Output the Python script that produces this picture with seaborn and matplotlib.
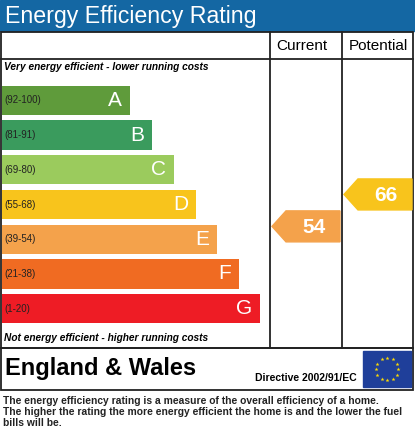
import matplotlib
matplotlib.use("Agg")
import matplotlib.pyplot as plt
import seaborn as sns
import pandas as pd
import numpy as np
from matplotlib.patches import Rectangle, Polygon

bands = ["A", "B", "C", "D", "E", "F", "G"]
ranges = ["(92-100)", "(81-91)", "(69-80)", "(55-68)", "(39-54)", "(21-38)", "(1-20)"]
bar_len = [128, 150, 172, 194, 215, 237, 258]
colors = ["#5f9b3b", "#3a9b5d", "#9bcb5d", "#f8c41c", "#f4a24b", "#f06b22", "#ee1c25"]
current = 54
potential = 66
current_pos = 3.63   # position on band scale (0=A ... 6=G)
potential_pos = 2.71

W, H = 415, 437
fig = plt.figure(figsize=(W/100, H/100), dpi=100)
ax = fig.add_axes([0, 0, 1, 1])
ax.set_xlim(0, W); ax.set_ylim(H, 0); ax.axis("off")
F = "Liberation Sans"

ax.add_patch(Rectangle((0, 0), W, 31, color="#1467a3"))
ax.text(5, 16, "Energy Efficiency Rating", color="white", fontsize=16.7, va="center", family=F)

lw = 1.3
ax.add_patch(Rectangle((1, 32), 412, 316, fill=False, ec="#222", lw=lw))
ax.plot([1, 413], [59, 59], color="#222", lw=lw)
ax.plot([270, 270], [32, 348], color="#222", lw=lw)
ax.plot([342, 342], [32, 348], color="#222", lw=lw)
ax.text(302, 46, "Current", ha="center", va="center", fontsize=11, family=F)
ax.text(378, 46, "Potential", ha="center", va="center", fontsize=11, family=F)
ax.text(4, 67, "Very energy efficient - lower running costs", fontsize=7.3, style="italic", weight="bold", va="center", family=F)
ax.text(4, 338, "Not energy efficient - higher running costs", fontsize=7.3, style="italic", weight="bold", va="center", family=F)

top, bot = 83, 326
bax = fig.add_axes([0, 1 - bot/H, 1, (bot-top)/H])
df = pd.DataFrame({"band": bands, "len": bar_len})
sns.barplot(data=df, x="len", y="band", hue="band", palette=colors, orient="h", width=0.84,
            saturation=1, ax=bax, legend=False)
bax.set_xlim(-2, W - 2)
bax.axis("off")
for i, (b, r, L) in enumerate(zip(bands, ranges, bar_len)):
    bax.text(2, i, r, va="center", fontsize=7, family=F, color="#222")
    bax.text(L - 8, i, b, va="center", ha="right", fontsize=15, color="white", family=F)

def arrow(x0, x1, pos, val, col):
    yc = top + (pos + 0.5) * (bot-top)/7
    h = 15.5
    ax.add_patch(Polygon([(x0, yc), (x0+14, yc-h), (x1, yc-h), (x1, yc+h), (x0+14, yc+h)], color=col))
    ax.text((x0+14+x1)/2 + 1, yc + 1, str(val), color="white", fontsize=15, weight="bold", ha="center", va="center", family=F)
arrow(272, 340, current_pos, current, colors[4])
arrow(344, 412, potential_pos, potential, colors[3])

ax.add_patch(Rectangle((1, 348), 412, 42, fill=False, ec="#222", lw=lw))
ax.text(5, 369, "England & Wales", fontsize=17, weight="bold", va="center", family=F)
ax.text(255, 378, "Directive 2002/91/EC", fontsize=7.5, weight="bold", va="center", family=F)
ax.add_patch(Rectangle((363, 351), 48, 36, color="#1f3f9a"))
for k in range(12):
    a = 2*np.pi*k/12
    ax.plot(387 + 11*np.cos(a), 369 + 11*np.sin(a), marker="*", color="#ffdd00", ms=3, mew=0)
ax.text(3, 396, "The energy efficiency rating is a measure of the overall efficiency of a home.\nThe higher the rating the more energy efficient the home is and the lower the fuel\nbills will be.",
        fontsize=7.4, weight="bold", va="top", linespacing=1.1, family=F, color="#222")

fig.savefig("out.png", dpi=100)
